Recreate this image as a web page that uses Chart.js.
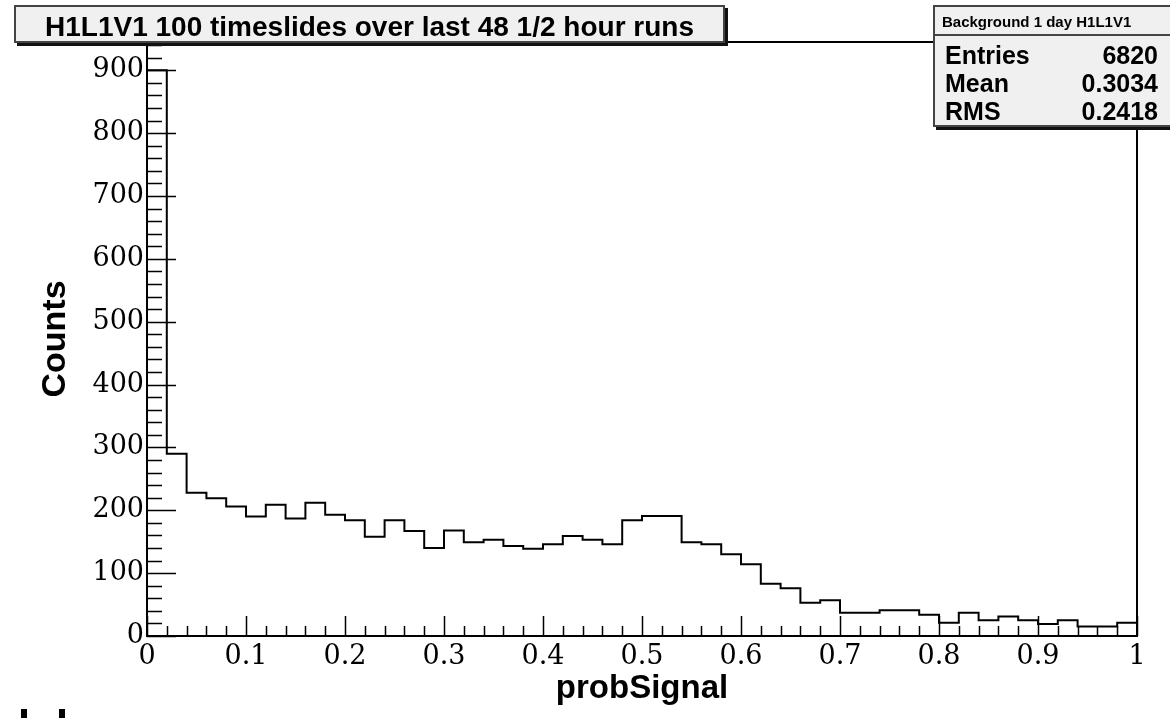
<!DOCTYPE html>
<html>
<head>
<meta charset="utf-8">
<title>probSignal background</title>
<script src="https://cdn.jsdelivr.net/npm/chart.js@4.4.1/dist/chart.umd.min.js"></script>
<style>
  body { margin: 0; background: #fff; }
  #wrap { position: relative; width: 1170px; height: 718px; overflow: hidden; background: #fff; }
  #c { position: absolute; left: 0; top: 0; }
  .box {
    position: absolute;
    box-sizing: border-box;
    background: #f0f0f0;
    border: 2px solid #444;
    box-shadow: 3px 3px 0 #111;
    font-family: 'Liberation Sans', Arial, sans-serif;
    font-weight: bold;
    color: #000;
  }
  #title { left: 14px; top: 5px; width: 711px; height: 38px; font-size: 28px; line-height: 28px; padding-top: 6px; text-align: center; white-space: nowrap; }
  #stats { left: 933px; top: 5px; width: 262px; height: 122px; }
  #stats .head { height: 27px; border-bottom: 2px solid #444; font-size: 15px; line-height: 29px; padding-left: 7px; white-space: nowrap; }
  #stats .row { position: absolute; left: 10px; width: 213px; height: 28px; font-size: 25px; line-height: 28px; display: flex; justify-content: space-between; }
  .mark { position: absolute; background: #000; width: 6px; height: 9px; top: 709px; }
</style>
</head>
<body>
<div id="wrap">
  <canvas id="c" width="1170" height="718"></canvas>
  <div class="box" id="title">H1L1V1 100 timeslides over last 48 1/2 hour runs</div>
  <div class="box" id="stats">
    <div class="head">Background 1 day H1L1V1</div>
    <div class="row" style="top:34px"><span>Entries</span><span>6820</span></div>
    <div class="row" style="top:62px"><span>Mean</span><span>0.3034</span></div>
    <div class="row" style="top:90px"><span>RMS</span><span>0.2418</span></div>
  </div>
  <div class="mark" style="left:21px"></div>
  <div class="mark" style="left:59px"></div>
</div>
<script>
// histogram: 50 bins of width 0.02 over probSignal [0, 1]
const binWidth = 0.02;
const counts = [
  900, 290, 228, 219, 206, 190, 209, 187, 212, 193,
  184, 158, 184, 167, 140, 168, 149, 153, 143, 139,
  146, 159, 153, 146, 184, 191, 191, 149, 146, 130,
  114, 83, 76, 53, 57, 37, 37, 41, 41, 34,
  21, 37, 25, 31, 25, 19, 25, 15, 15, 21,
];

const xMin = 0;
const xMax = 1;
const yMin = 0;
const yMax = 945;
const xTicks = [0, 0.1, 0.2, 0.3, 0.4, 0.5, 0.6, 0.7, 0.8, 0.9, 1];
const xTickLabels = ['0', '0.1', '0.2', '0.3', '0.4', '0.5', '0.6', '0.7', '0.8', '0.9', '1'];
const yTicks = [0, 100, 200, 300, 400, 500, 600, 700, 800, 900];
const xMinorStep = 0.02;
const yMinorStep = 20;

function histogramPoints() {
  const pts = [{ x: xMin, y: 0 }];
  counts.forEach((c, i) => pts.push({ x: +(i * binWidth).toFixed(2), y: c }));
  pts.push({ x: xMax, y: counts[counts.length - 1] });
  pts.push({ x: xMax, y: 0 });
  return pts;
}

// ROOT style frame with ticks pointing into the pad
const rootFrame = {
  id: 'rootFrame',
  afterDatasetsDraw(chart) {
    const { ctx, chartArea: a, scales: { x, y } } = chart;
    ctx.save();
    ctx.strokeStyle = '#000';
    ctx.lineWidth = 1.5;
    ctx.beginPath();
    const nx = Math.round((xMax - xMin) / xMinorStep);
    for (let k = 0; k <= nx; k++) {
      const px = Math.round(x.getPixelForValue(xMin + k * xMinorStep)) + 0.5;
      const len = k % 5 === 0 ? 20 : 10;
      ctx.moveTo(px, a.bottom);
      ctx.lineTo(px, a.bottom - len);
    }
    for (let v = yMin; v <= yMax; v += yMinorStep) {
      const py = Math.round(y.getPixelForValue(v)) + 0.5;
      const len = v % 100 === 0 ? 29 : 15;
      ctx.moveTo(a.left, py);
      ctx.lineTo(a.left + len, py);
    }
    ctx.stroke();
    ctx.lineWidth = 2;
    ctx.strokeRect(a.left, a.top, a.right - a.left, a.bottom - a.top);
    ctx.restore();
  },
};

const tickFont = { family: "'DejaVu Serif', serif", size: 27 };
const titleFont = { family: "'Liberation Sans', Arial, sans-serif", size: 34, weight: 'bold' };

new Chart(document.getElementById('c'), {
  type: 'line',
  data: {
    datasets: [
      {
        data: histogramPoints(),
        stepped: 'before',
        borderColor: '#000',
        borderWidth: 2,
        pointRadius: 0,
        fill: false,
      },
    ],
  },
  options: {
    responsive: false,
    animation: false,
    devicePixelRatio: 1,
    layout: { padding: { left: 0, top: 42, right: 33, bottom: 0 } },
    plugins: { legend: { display: false }, tooltip: { enabled: false } },
    scales: {
      x: {
        type: 'linear',
        min: xMin,
        max: xMax,
        afterBuildTicks: (s) => { s.ticks = xTicks.map((v) => ({ value: v })); },
        afterFit: (s) => { s.height = 82; },
        grid: { display: false, drawTicks: false },
        border: { display: false },
        ticks: {
          autoSkip: false,
          maxRotation: 0,
          padding: 5,
          color: '#000',
          font: tickFont,
          callback: (v, i) => xTickLabels[i],
        },
        title: { display: true, text: 'probSignal', color: '#000', font: { ...titleFont, size: 33 }, padding: { top: 0, bottom: 9 } },
      },
      y: {
        type: 'linear',
        min: yMin,
        max: yMax,
        afterBuildTicks: (s) => { s.ticks = yTicks.map((v) => ({ value: v })); },
        afterFit: (s) => { s.width = 147; },
        grid: { display: false, drawTicks: false },
        border: { display: false },
        ticks: { padding: 3, color: '#000', font: tickFont },
        title: { display: true, text: 'Counts', color: '#000', font: titleFont, padding: { top: 35, bottom: 0 } },
      },
    },
  },
  plugins: [rootFrame],
});
</script>
</body>
</html>
